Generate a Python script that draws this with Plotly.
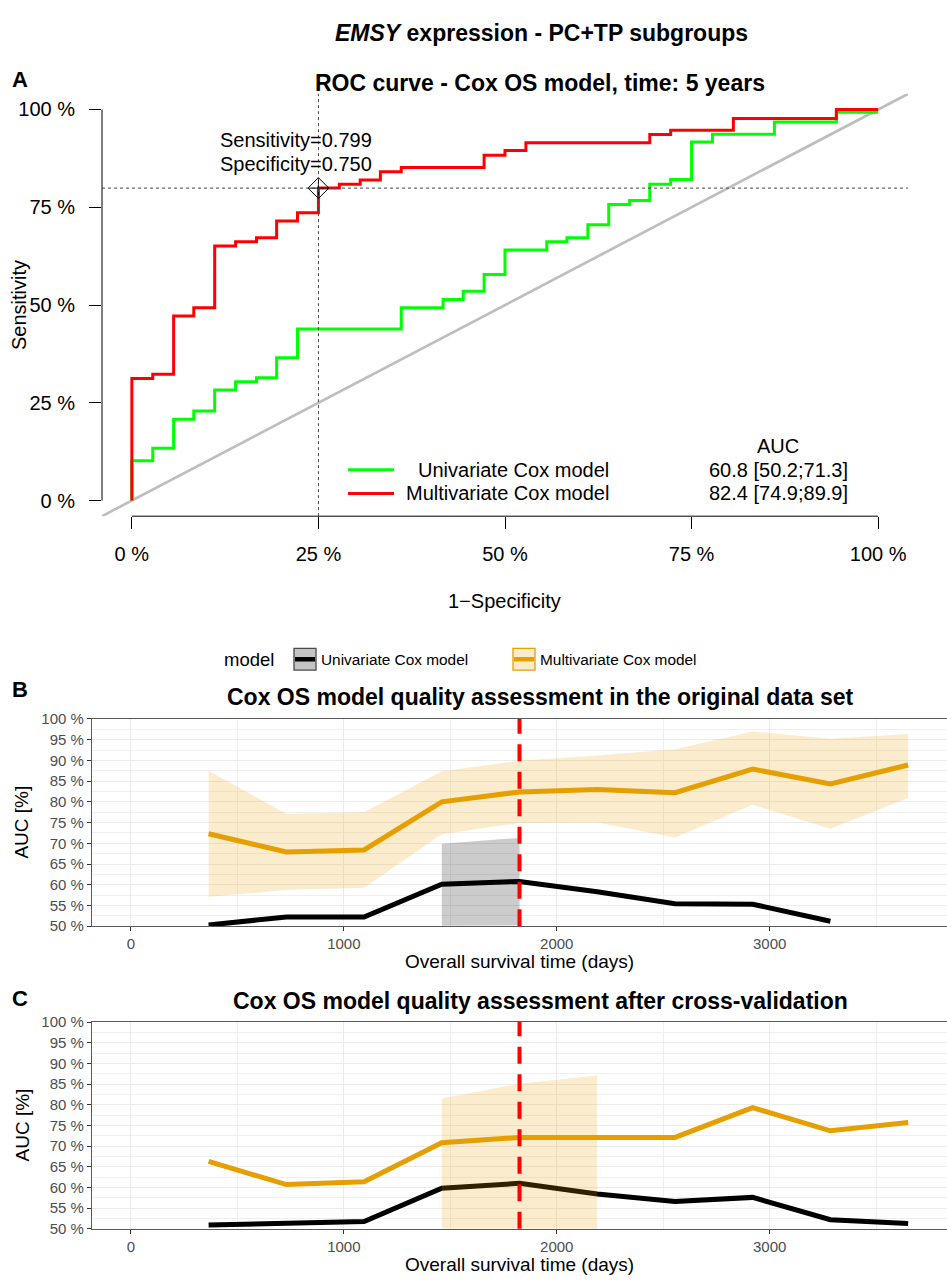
import plotly.graph_objects as go

W, H = 947, 1282
FONT = "Liberation Sans, Arial, Helvetica, sans-serif"

# ---------------- Panel A data (ROC at 5 years) ----------------
multi_fpr = [0, 0, 0.028, 0.056, 0.083, 0.111, 0.139, 0.167, 0.194, 0.222, 0.250, 0.278,
             0.306, 0.333, 0.361, 0.472, 0.500, 0.528, 0.694, 0.722, 0.806, 0.944, 1.0]
multi_tpr = [0, 0.312, 0.323, 0.472, 0.493, 0.651, 0.662, 0.672, 0.715, 0.736, 0.799, 0.809,
             0.820, 0.841, 0.852, 0.883, 0.895, 0.915, 0.936, 0.947, 0.977, 1.0, 1.0]
uni_fpr = [0, 0, 0.028, 0.056, 0.083, 0.111, 0.139, 0.167, 0.194, 0.222, 0.361, 0.417, 0.444,
           0.472, 0.500, 0.556, 0.583, 0.611, 0.639, 0.667, 0.694, 0.722, 0.750, 0.778, 0.861,
           0.944, 1.0]
uni_tpr = [0, 0.102, 0.134, 0.208, 0.229, 0.283, 0.304, 0.314, 0.365, 0.439, 0.493, 0.514, 0.535,
           0.578, 0.641, 0.662, 0.672, 0.705, 0.757, 0.767, 0.809, 0.821, 0.917, 0.937, 0.968,
           0.993, 0.993]
best_sens = 0.799
best_spec = 0.750
model_names = ["Univariate Cox model", "Multivariate Cox model"]
auc_est = [60.8, 82.4]
auc_lo = [50.2, 74.9]
auc_hi = [71.3, 89.9]
pct_ticks = [0, 25, 50, 75, 100]
roc_range = [-0.04, 1.04]

# ---------------- Panels B & C data ----------------
days = [365, 730, 1095, 1460, 1825, 2190, 2555, 2920, 3285, 3650]
roc_time_days = 1825
orig_multi = [72.3, 67.9, 68.4, 80.0, 82.4, 83.0, 82.2, 87.9, 84.3, 88.9]
orig_multi_lo = [57.1, 58.7, 59.3, 72.2, 74.9, 75.0, 71.4, 79.3, 73.5, 80.9]
orig_multi_hi = [87.5, 77.1, 77.5, 87.4, 89.9, 91.2, 92.7, 97.0, 95.2, 96.4]
orig_uni = [50.3, 52.2, 52.2, 60.1, 60.8, 58.3, 55.4, 55.3, 51.2, None]
orig_uni_lo = [None, None, None, 50.1, 50.2, None, None, None, None, None]
orig_uni_hi = [None, None, None, 69.9, 71.3, None, None, None, None, None]

cv_multi = [66.3, 60.7, 61.4, 70.8, 72.1, 72.1, 72.1, 79.3, 73.7, 75.7]
cv_multi_lo = [None, None, None, 50.0, 50.0, 50.0, None, None, None, None]
cv_multi_hi = [None, None, None, 81.5, 85.1, 87.1, None, None, None, None]
cv_uni = [50.9, 51.2, 51.75, 59.8, 61.0, 58.4, 56.6, 57.6, 52.2, 51.3]

auc_ticks = [50, 55, 60, 65, 70, 75, 80, 85, 90, 95, 100]
auc_minor = [52.5, 57.5, 62.5, 67.5, 72.5, 77.5, 82.5, 87.5, 92.5, 97.5]
day_ticks = [0, 1000, 2000, 3000]
day_minor = [500, 1500, 2500, 3500]
day_range = [-182.5, 3832.5]

ORANGE = "#E69F00"


def px(x):
    return x / W


def py(y):
    return 1 - y / H


fig = go.Figure()

# ---------------- Panel A traces ----------------
fig.add_trace(go.Scatter(x=roc_range, y=roc_range, mode="lines",
                         line=dict(color="#BEBEBE", width=2.7),
                         xaxis="x", yaxis="y", showlegend=False, hoverinfo="skip"))
fig.add_trace(go.Scatter(x=uni_fpr, y=uni_tpr, mode="lines", line_shape="hv",
                         line=dict(color="#00FF00", width=3),
                         xaxis="x", yaxis="y", showlegend=False))
fig.add_trace(go.Scatter(x=multi_fpr, y=multi_tpr, mode="lines", line_shape="hv",
                         line=dict(color="#FF0000", width=3),
                         xaxis="x", yaxis="y", showlegend=False))
fig.add_trace(go.Scatter(x=[1 - best_spec], y=[best_sens], mode="markers",
                         marker=dict(symbol="diamond-cross-open", size=16,
                                     color="black", line=dict(color="black", width=1)),
                         xaxis="x", yaxis="y", showlegend=False))


# ---------------- Panels B & C traces ----------------
def ribbon(xs, lo, hi, color, xa, ya):
    seg = []
    segs = []
    for x, l, h in zip(xs, lo, hi):
        if l is None or h is None:
            if seg:
                segs.append(seg)
            seg = []
        else:
            seg.append((x, l, h))
    if seg:
        segs.append(seg)
    for s in segs:
        xx = [p[0] for p in s] + [p[0] for p in reversed(s)]
        yy = [p[2] for p in s] + [p[1] for p in reversed(s)]
        fig.add_trace(go.Scatter(x=xx, y=yy, mode="lines", fill="toself",
                                 fillcolor=color, line=dict(width=0),
                                 xaxis=xa, yaxis=ya, showlegend=False, hoverinfo="skip"))


for xa, ya, uni, multi, ulo, uhi, mlo, mhi in [
    ("x2", "y2", orig_uni, orig_multi, orig_uni_lo, orig_uni_hi, orig_multi_lo, orig_multi_hi),
    ("x3", "y3", cv_uni, cv_multi, [None] * len(days), [None] * len(days), cv_multi_lo, cv_multi_hi),
]:
    fig.add_trace(go.Scatter(x=days, y=uni, mode="lines", line=dict(color="black", width=5),
                             xaxis=xa, yaxis=ya, showlegend=False))
    fig.add_trace(go.Scatter(x=days, y=multi, mode="lines", line=dict(color=ORANGE, width=5),
                             xaxis=xa, yaxis=ya, showlegend=False))
    ribbon(days, ulo, uhi, "rgba(0,0,0,0.2)", xa, ya)
    ribbon(days, mlo, mhi, "rgba(230,159,0,0.2)", xa, ya)

# ---------------- Axes ----------------
A_x0, A_x1, A_y0, A_y1 = 102, 908, 86, 514
B_top, B_bot = 719.5, 929.5
C_top, C_bot = 1026.7, 1236.2
P_left, P_right = 92, 947

axA = dict(range=roc_range, showgrid=False, zeroline=False, showline=False,
           tickvals=[t / 100 for t in pct_ticks], ticktext=[f"{t} %" for t in pct_ticks],
           ticks="outside", ticklen=12, tickwidth=1, tickcolor="black",
           tickfont=dict(size=20, color="black", family=FONT), fixedrange=True)

layout_axes = dict(
    xaxis=dict(domain=[px(A_x0), px(A_x1)], anchor="y", ticklabelstandoff=8, **axA),
    yaxis=dict(domain=[py(A_y1), py(A_y0)], anchor="x", ticklabelstandoff=10, **axA),
)


def time_axes(top, bot, n):
    xa = dict(domain=[px(P_left), px(P_right)], anchor=f"y{n}", range=day_range,
              tickvals=day_ticks, ticktext=[str(d) for d in day_ticks],
              showgrid=True, gridcolor="#EBEBEB", gridwidth=1.4,
              minor=dict(tickvals=day_minor, showgrid=True, gridcolor="#EFEFEF", gridwidth=0.8),
              ticks="outside", ticklen=4, tickcolor="#333333",
              tickfont=dict(size=15, color="#4D4D4D", family=FONT),
              showline=True, linecolor="#5A5A5A", linewidth=1.3, mirror=True, zeroline=False)
    ya = dict(domain=[py(bot), py(top)], anchor=f"x{n}", range=[50, 100],
              tickvals=auc_ticks, ticktext=[f"{t} %" for t in auc_ticks],
              showgrid=True, gridcolor="#EBEBEB", gridwidth=1.4,
              minor=dict(tickvals=auc_minor, showgrid=True, gridcolor="#EFEFEF", gridwidth=0.8),
              ticks="outside", ticklen=4, tickcolor="#333333",
              tickfont=dict(size=15, color="#4D4D4D", family=FONT),
              showline=True, linecolor="#5A5A5A", linewidth=1.3, zeroline=False)
    return xa, ya


xb, yb = time_axes(B_top, B_bot, 2)
xc, yc = time_axes(C_top, C_bot, 3)
layout_axes.update(xaxis2=xb, yaxis2=yb, xaxis3=xc, yaxis3=yc)

# ---------------- Shapes ----------------
shapes = [
    # R style axis lines (first to last tick)
    dict(type="line", xref="x", yref="y domain", x0=pct_ticks[0] / 100, x1=pct_ticks[-1] / 100,
         y0=0, y1=0, line=dict(color="black", width=1)),
    dict(type="line", xref="x domain", yref="y", x0=0, x1=0, y0=pct_ticks[0] / 100,
         y1=pct_ticks[-1] / 100, line=dict(color="black", width=1)),
    # threshold guides
    dict(type="line", xref="x", yref="y domain", x0=1 - best_spec, x1=1 - best_spec, y0=0, y1=1,
         line=dict(color="#444444", width=1, dash="dot")),
    dict(type="line", xref="x domain", yref="y", x0=0, x1=1, y0=best_sens, y1=best_sens,
         line=dict(color="#444444", width=1, dash="dot")),
]
for n in (2, 3):
    shapes.append(dict(type="line", xref=f"x{n}", yref=f"y{n} domain", x0=roc_time_days,
                       x1=roc_time_days, y0=0, y1=1, layer="above",
                       line=dict(color="#FF0000", width=4, dash="17px,10.5px")))

# Panel A legend lines
for yy, col in [(467, "#00FF00"), (491, "#FF0000")]:
    shapes.append(dict(type="line", xref="paper", yref="paper", x0=px(348), x1=px(394),
                       y0=py(yy), y1=py(yy), line=dict(color=col, width=3)))

# Panel B/C legend keys
for x0, fill, border, col in [(294, "#C4C4C4", "#4A4A4A", "black"),
                              (513, "#FAEBCB", ORANGE, ORANGE)]:
    shapes.append(dict(type="rect", xref="paper", yref="paper", x0=px(x0), x1=px(x0 + 22),
                       y0=py(670), y1=py(648), fillcolor=fill, line=dict(color=border, width=1.3)))
    shapes.append(dict(type="line", xref="paper", yref="paper", x0=px(x0 + 1), x1=px(x0 + 21),
                       y0=py(659), y1=py(659), line=dict(color=col, width=4.5)))

# ---------------- Annotations ----------------
annotations = []


def ann(text, x, y, size, xanchor="center", yanchor="middle", angle=0, color="black"):
    annotations.append(dict(text=text, x=px(x), y=py(y), xref="paper", yref="paper",
                            xanchor=xanchor, yanchor=yanchor, showarrow=False,
                            textangle=angle, font=dict(size=size, color=color, family=FONT)))


ann("<b><i>EMSY</i> expression - PC+TP subgroups</b>", 541, 24, 23)
ann("<b>A</b>", 20, 71, 22)
ann("<b>ROC curve - Cox OS model, time: 5 years</b>", 540, 75, 23)
ann(f"Sensitivity={best_sens:.3f}", 218, 133, 20, xanchor="left")
ann(f"Specificity={best_spec:.3f}", 218, 157, 20, xanchor="left")
ann("1\u2212Specificity", 505, 600, 20)
ann("Sensitivity", 19, 300, 20, angle=-90)
ann("AUC", 778, 443, 20)
for i, yy in enumerate([467, 491]):
    ann(model_names[i], 611, yy, 20, xanchor="right")
    ann(f"{auc_est[i]:.1f} [{auc_lo[i]:.1f};{auc_hi[i]:.1f}]", 778, yy, 20)

ann("model", 222, 659, 18.5, xanchor="left")
ann(model_names[0], 319, 659, 15.4, xanchor="left")
ann(model_names[1], 538, 659, 15.4, xanchor="left")

ann("<b>B</b>", 20, 690, 22)
ann("<b>Cox OS model quality assessment in the original data set</b>", 540, 697, 23)
ann("Overall survival time (days)", 519, 965, 19)
ann("AUC [%]", 22, (B_top + B_bot) / 2, 19, angle=-90)

ann("<b>C</b>", 20, 1003, 22)
ann("<b>Cox OS model quality assessment after cross-validation</b>", 540, 1005, 23)
ann("Overall survival time (days)", 519, 1272, 19)
ann("AUC [%]", 22, (C_top + C_bot) / 2, 19, angle=-90)

fig.update_layout(
    width=W, height=H, autosize=False,
    margin=dict(l=0, r=0, t=0, b=0, pad=0),
    paper_bgcolor="white", plot_bgcolor="white",
    font=dict(family=FONT, color="black"),
    showlegend=False,
    shapes=shapes, annotations=annotations,
    **layout_axes,
)

fig.write_html("out.html", config={"displayModeBar": False})
